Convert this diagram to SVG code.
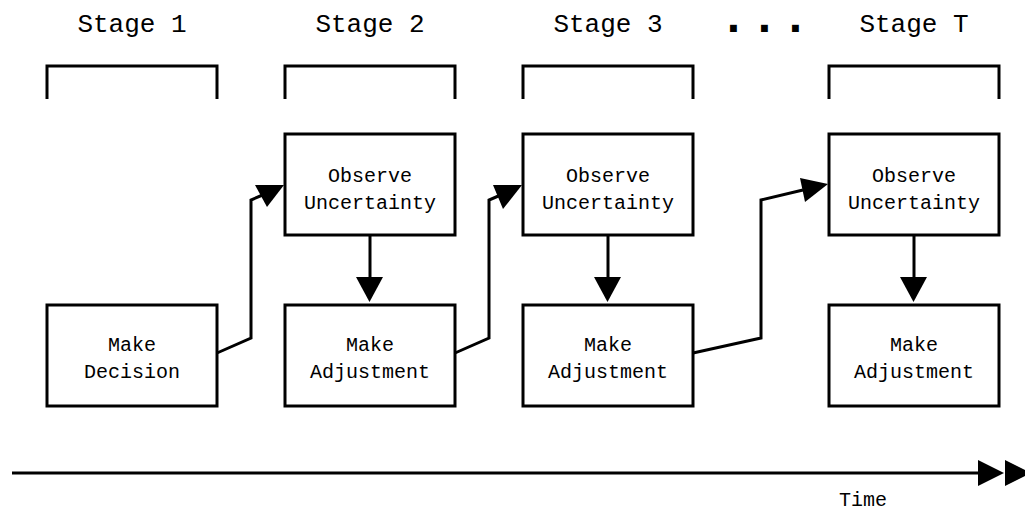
<svg xmlns="http://www.w3.org/2000/svg" width="1025" height="510" viewBox="0 0 1025 510">
<style>
.box{fill:#fff;stroke:#000;stroke-width:3}
.br{fill:none;stroke:#000;stroke-width:3}
.ln{fill:none;stroke:#000;stroke-width:3;stroke-linejoin:miter}
.hd{fill:#000;stroke:none}
.st{font-family:"Liberation Mono",monospace;font-size:26px;text-anchor:middle;fill:#000}
.tx{font-family:"Liberation Mono",monospace;font-size:20px;text-anchor:middle;fill:#000}
.dots{font-family:"Liberation Mono",monospace;font-size:48px;font-weight:bold;fill:#000}
</style>
<rect width="1025" height="510" fill="#fff"/>
<g id="stages">
<text class="st" x="132" y="32">Stage 1</text>
<text class="st" x="370" y="32">Stage 2</text>
<text class="st" x="608" y="32">Stage 3</text>
<text class="dots" x="719" y="32" letter-spacing="2.2">...</text>
<text class="st" x="914" y="32">Stage T</text>
<polyline class="br" points="47,99 47,66 217,66 217,99"/>
<polyline class="br" points="285,99 285,66 455,66 455,99"/>
<polyline class="br" points="523,99 523,66 693,66 693,99"/>
<polyline class="br" points="829,99 829,66 999,66 999,99"/>
</g>
<g id="n1">
<rect class="box" x="47" y="305" width="170" height="101"/>
<text class="tx" x="132" y="351">Make</text>
<text class="tx" x="132" y="378">Decision</text>
</g>
<g id="n2">
<rect class="box" x="285" y="134" width="170" height="101"/>
<text class="tx" x="370" y="182">Observe</text>
<text class="tx" x="370" y="209">Uncertainty</text>
</g>
<g id="n3">
<rect class="box" x="285" y="305" width="170" height="101"/>
<text class="tx" x="370" y="351">Make</text>
<text class="tx" x="370" y="378">Adjustment</text>
</g>
<g id="n4">
<rect class="box" x="523" y="134" width="170" height="101"/>
<text class="tx" x="608" y="182">Observe</text>
<text class="tx" x="608" y="209">Uncertainty</text>
</g>
<g id="n5">
<rect class="box" x="523" y="305" width="170" height="101"/>
<text class="tx" x="608" y="351">Make</text>
<text class="tx" x="608" y="378">Adjustment</text>
</g>
<g id="n6">
<rect class="box" x="829" y="134" width="170" height="101"/>
<text class="tx" x="914" y="182">Observe</text>
<text class="tx" x="914" y="209">Uncertainty</text>
</g>
<g id="n7">
<rect class="box" x="829" y="305" width="170" height="101"/>
<text class="tx" x="914" y="351">Make</text>
<text class="tx" x="914" y="378">Adjustment</text>
</g>
<g id="connectors">
<polyline class="ln" points="217,353 251,338 251,200 265,194"/>
<path class="hd" d="M255,185 L284,185 L267,207 z"/>
<polyline class="ln" points="455,353 489,338 489,200 503,194"/>
<path class="hd" d="M493,185 L522,185 L503,209 z"/>
<polyline class="ln" points="693,353 761,338 761,200 803,190"/>
<path class="hd" d="M800,178 L828,184 L805,202 z"/>
<line class="ln" x1="370" y1="235" x2="370" y2="280"/>
<path class="hd" d="M356,277 L383,277 L369.5,302 z"/>
<line class="ln" x1="608" y1="235" x2="608" y2="280"/>
<path class="hd" d="M594,277 L621,277 L607.5,302 z"/>
<line class="ln" x1="914" y1="235" x2="914" y2="280"/>
<path class="hd" d="M900,277 L927,277 L913.5,302 z"/>
<line class="ln" x1="12" y1="473" x2="980" y2="473"/>
<path class="hd" d="M978,460 L1004,473 L978,486 z"/>
<path class="hd" d="M1005,460 L1031,473 L1005,486 z"/>
</g>
<text class="tx" x="863" y="506" font-size="19">Time</text>
</svg>
